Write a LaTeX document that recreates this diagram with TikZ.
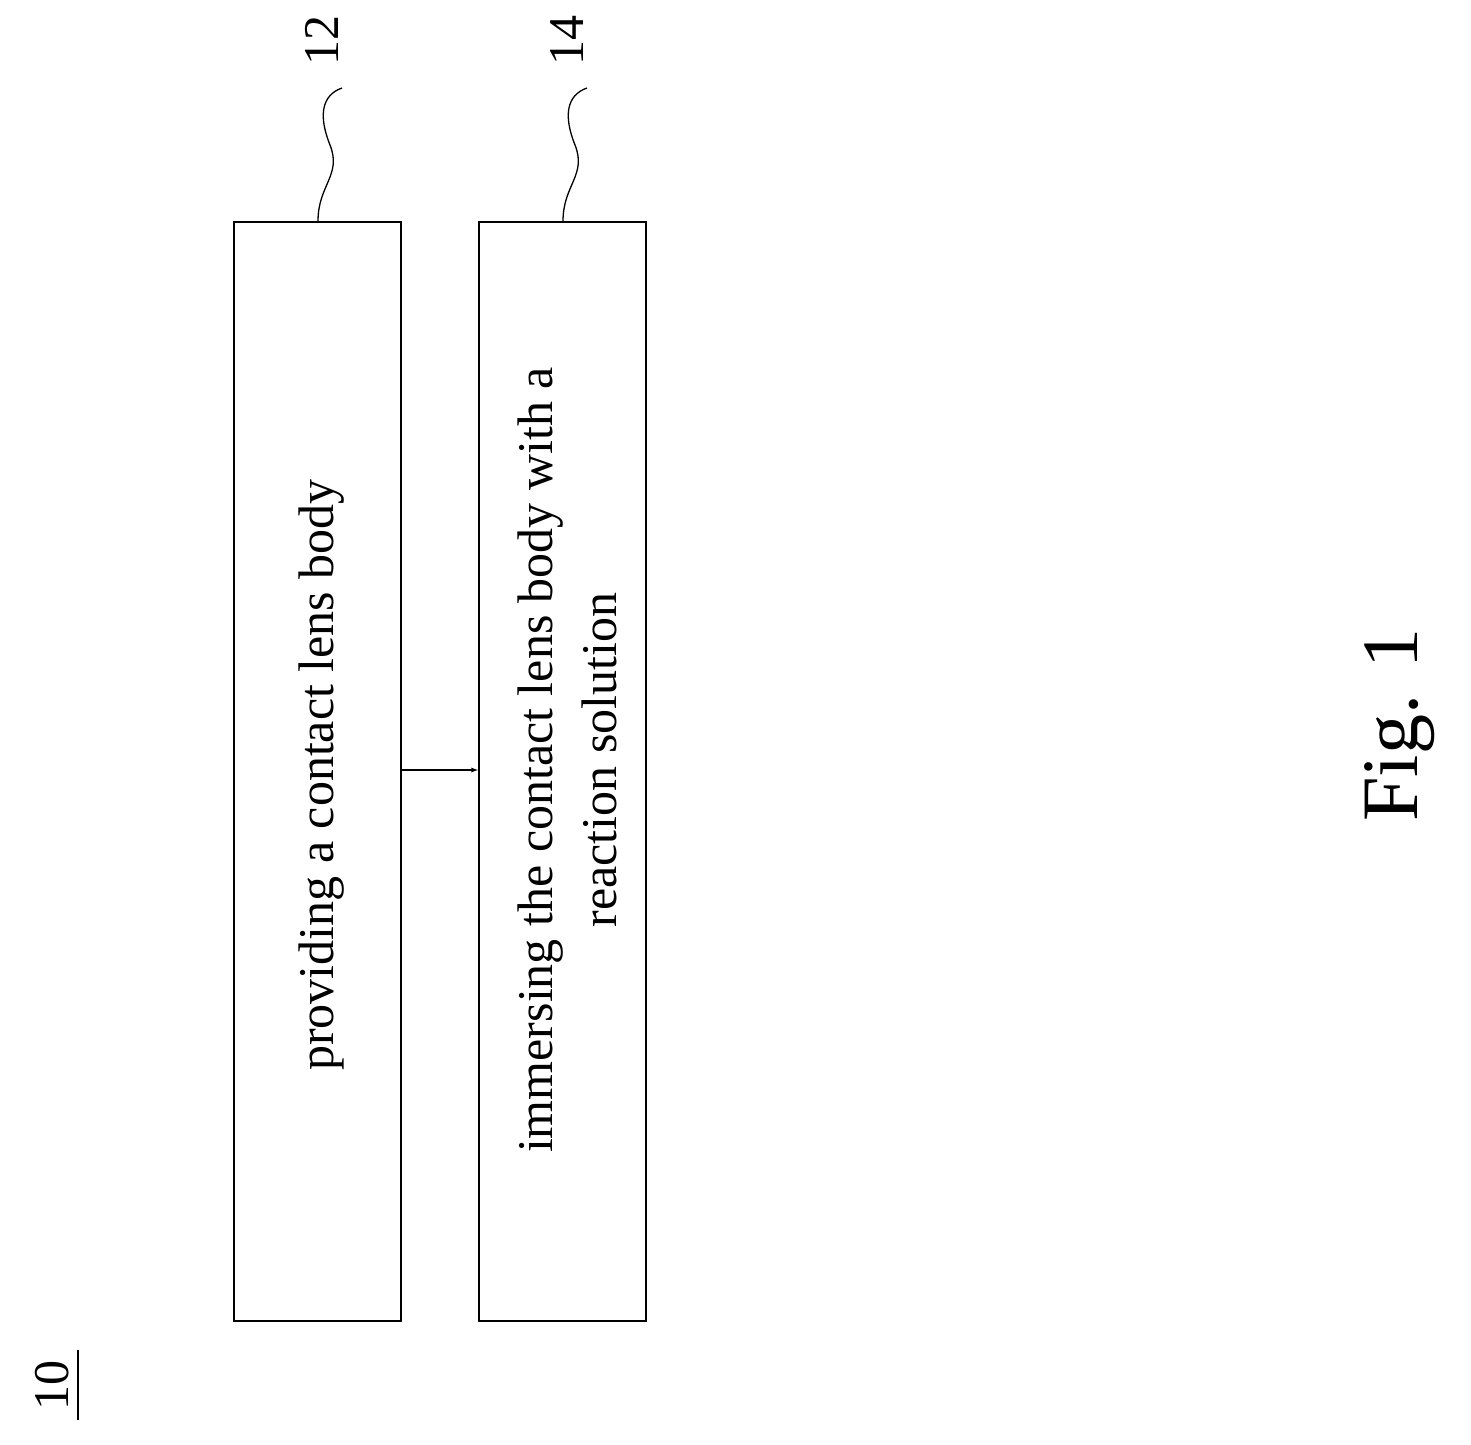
\documentclass[tikz,border=0pt]{standalone}
\usepackage{fontspec}
\setmainfont{Liberation Serif}
\begin{document}
\begin{tikzpicture}[x=1pt,y=-1pt,
  stepbox/.style={draw,line width=1.6pt,minimum width=167pt,minimum height=1099pt,anchor=north west,inner sep=0},
  txt/.style={rotate=90,font=\fontsize{50}{64}\selectfont,align=center},
  lbl/.style={rotate=90,font=\fontsize{50}{60}\selectfont},
  lead/.style={line width=1.3pt}]
\useasboundingbox (0,0) rectangle (1471,1444);
\node[stepbox] (b1) at (233,221) {};
\node[stepbox] (b2) at (478,221) {};
\node[txt] (t1) at (322,775) {providing a contact lens body};
\node[txt] (t2) at (567,760) {immersing the contact lens body with a\\reaction solution};
\draw[-latex,line width=1.3pt] (b1.east |- 0,770) -- (b2.west |- 0,770);
\node[lbl] (n12) at (322,40) {12};
\node[lbl] (n14) at (567,40) {14};
\draw[lead] (b1.north -| 318,0) .. controls (318,185) and (342,175) .. (330,145) .. controls (318,115) and (322,95) .. (342,88);
\draw[lead] (b2.north -| 563,0) .. controls (563,185) and (587,175) .. (575,145) .. controls (563,115) and (567,95) .. (587,88);
\node[lbl] (n10) at (52,1385) {10};
\draw[line width=2pt] (78,1350) -- (78,1420);
\node[rotate=90,font=\fontsize{80}{90}\selectfont] (fig) at (1400,725) {Fig. 1};
\end{tikzpicture}
\end{document}
